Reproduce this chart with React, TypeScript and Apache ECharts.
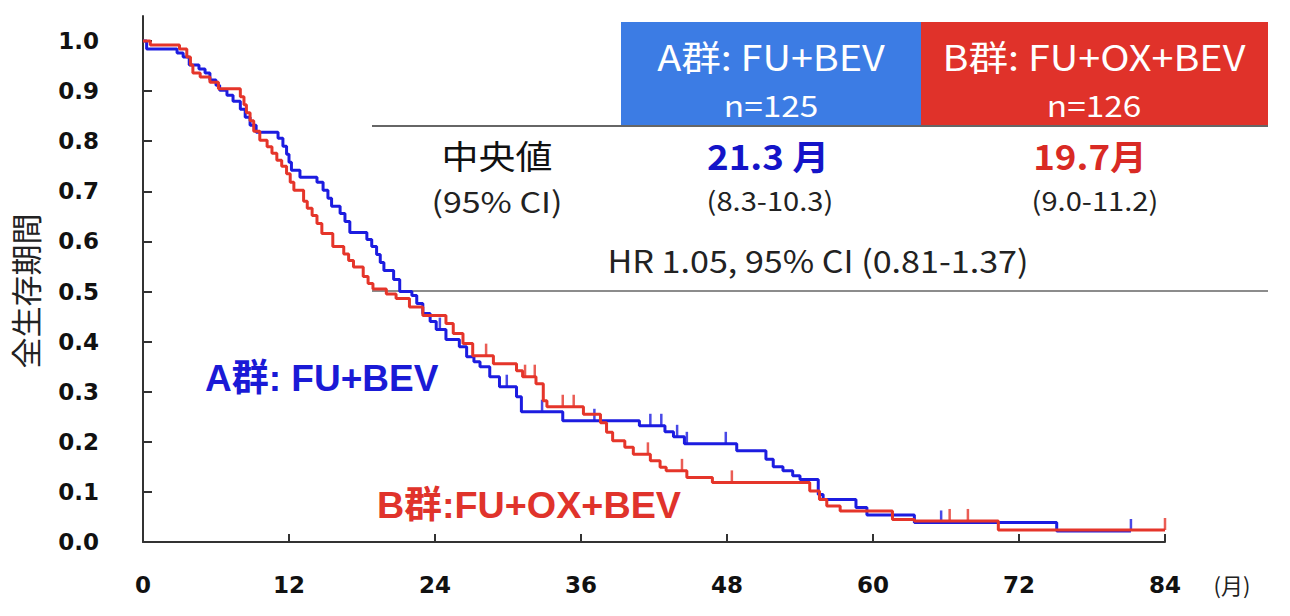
import React, { useEffect, useRef } from "react";
import * as echarts from "echarts";

const xTicks = [0, 12, 24, 36, 48, 60, 72, 84];

// Group A (FU+BEV): [month, survival] where survival becomes the value at that month
const armA: [number, number][] = [
  [0, 1.0], [0.3, 0.984], [2.8, 0.976], [3.3, 0.968], [3.8, 0.952], [4.6, 0.944], [5.1, 0.936],
  [5.5, 0.922], [6.0, 0.912], [6.3, 0.902], [6.9, 0.892], [7.4, 0.88], [8.0, 0.864], [8.4, 0.848],
  [8.8, 0.832], [9.3, 0.818], [11.1, 0.806], [11.5, 0.79], [11.8, 0.774], [12.0, 0.758], [12.2, 0.742],
  [12.9, 0.728], [14.3, 0.718], [14.8, 0.702], [15.2, 0.686], [15.5, 0.67], [16.2, 0.656], [16.6, 0.64],
  [17.0, 0.618], [18.4, 0.604], [18.8, 0.59], [19.2, 0.574], [19.5, 0.558], [19.8, 0.542], [20.6, 0.524],
  [21.1, 0.5], [22.1, 0.492], [22.5, 0.476], [23.0, 0.456], [23.6, 0.44], [24.1, 0.424], [24.9, 0.404],
  [26.0, 0.39], [26.6, 0.37], [27.2, 0.36], [27.7, 0.35], [28.5, 0.33], [29.3, 0.31], [30.7, 0.29],
  [31.1, 0.26], [34.5, 0.242], [40.8, 0.232], [42.9, 0.22], [43.6, 0.21], [44.5, 0.196], [48.8, 0.182],
  [51.2, 0.165], [51.8, 0.15], [52.6, 0.142], [53.4, 0.132], [54.0, 0.125], [55.5, 0.095], [55.9, 0.085],
  [58.6, 0.069], [59.5, 0.054], [63.4, 0.039], [75.1, 0.022], [81.2, 0.022],
];

const censorA: [number, number][] = [
  [24.4, 0.424], [29.9, 0.31], [32.8, 0.26], [37.1, 0.242], [41.7, 0.232], [42.6, 0.232],
  [43.9, 0.21], [44.7, 0.196], [47.9, 0.196], [65.6, 0.039], [81.2, 0.022],
];

// Group B (FU+OX+BEV)
const armB: [number, number][] = [
  [0, 1.0], [0.6, 0.992], [3.0, 0.984], [3.6, 0.968], [3.9, 0.952], [4.1, 0.936], [4.7, 0.928],
  [5.5, 0.918], [6.2, 0.905], [8.0, 0.889], [8.3, 0.873], [8.5, 0.857], [8.8, 0.841], [9.1, 0.82],
  [9.6, 0.802], [10.2, 0.789], [10.6, 0.776], [11.0, 0.762], [11.4, 0.75], [11.8, 0.735], [12.1, 0.718],
  [12.4, 0.702], [13.2, 0.68], [13.5, 0.666], [13.9, 0.652], [14.3, 0.636], [14.7, 0.616], [15.6, 0.59],
  [16.5, 0.575], [16.9, 0.562], [17.3, 0.549], [18.1, 0.53], [18.5, 0.516], [18.9, 0.505], [20.0, 0.495],
  [20.8, 0.486], [21.9, 0.469], [23.0, 0.452], [24.9, 0.436], [25.5, 0.416], [26.3, 0.396], [27.1, 0.372],
  [28.8, 0.356], [30.7, 0.342], [31.2, 0.33], [32.3, 0.316], [32.9, 0.282], [33.2, 0.27], [36.2, 0.255],
  [37.6, 0.238], [38.1, 0.219], [38.6, 0.202], [39.6, 0.189], [40.3, 0.175], [41.7, 0.162], [42.5, 0.149],
  [43.0, 0.142], [44.7, 0.129], [46.8, 0.119], [54.8, 0.102], [55.6, 0.085], [56.2, 0.072], [57.3, 0.062],
  [61.6, 0.045], [63.4, 0.042], [70.3, 0.024], [84, 0.024],
];

const censorB: [number, number][] = [
  [28.2, 0.372], [31.4, 0.33], [32.2, 0.33], [34.5, 0.27], [35.4, 0.27], [41.5, 0.175],
  [44.3, 0.142], [48.4, 0.119], [66.3, 0.042], [67.8, 0.042], [84, 0.024],
];

const BLUE = "#1c1ce0";
const RED = "#e5352a";
const BOX_BLUE = "#3c7ce4";
const BOX_RED = "#e0322a";
const TXT_FONT = "'Noto Sans CJK JP', 'Noto Sans', sans-serif";
const CJK = "'Noto Sans CJK JP', 'Liberation Sans', sans-serif";
const AXIS_FONT = "'DejaVu Sans', 'Liberation Sans', sans-serif";

export default function App() {
  const ref = useRef<HTMLDivElement>(null);
  useEffect(() => {
    if (!ref.current) return;
    const chart = echarts.init(ref.current, null, { renderer: "svg" });
    const censorSymbol = (color: string) => ({
      symbol: "rect",
      symbolSize: [2.5, 12],
      symbolOffset: [0, -6],
      itemStyle: { color },
    });
    const t = (x: number, y: number, text: string, fill: string, font: string, sx = 1, align = "center") => ({
      type: "text",
      x,
      y,
      scaleX: sx,
      z: 5,
      style: { text, fill, font, align, verticalAlign: "middle" },
    });
    chart.setOption({
      animation: false,
      backgroundColor: "#ffffff",
      grid: { left: 143, right: 125, top: 16, bottom: 74 },
      xAxis: {
        type: "value",
        min: 0,
        max: 84,
        interval: 12,
        axisLine: { lineStyle: { color: "#333", width: 2 } },
        axisTick: { inside: true, length: 8, lineStyle: { color: "#333", width: 2 } },
        splitLine: { show: false },
        axisLabel: {
          margin: 31,
          color: "#111",
          fontWeight: "bold",
          fontSize: 23,
          fontFamily: AXIS_FONT,
          formatter: (v: number) => (xTicks.includes(v) ? String(v) : ""),
        },
      },
      yAxis: {
        type: "value",
        min: 0,
        max: 1.05,
        interval: 0.1,
        axisLine: { show: true, lineStyle: { color: "#333", width: 2 } },
        axisTick: { show: true, inside: true, length: 9, lineStyle: { color: "#333", width: 2 } },
        splitLine: { show: false },
        axisLabel: {
          showMaxLabel: false,
          margin: 44,
          color: "#111",
          fontWeight: "bold",
          fontSize: 23,
          fontFamily: AXIS_FONT,
          formatter: (v: number) => (v > 1.001 ? "" : v.toFixed(1)),
        },
      },
      series: [
        {
          type: "line",
          step: "end",
          data: armA,
          showSymbol: false,
          lineStyle: { color: BLUE, width: 3 },
          z: 3,
        },
        {
          type: "line",
          step: "end",
          data: armB,
          showSymbol: false,
          lineStyle: { color: RED, width: 3 },
          z: 4,
        },
        { type: "scatter", data: censorA, ...censorSymbol(BLUE), z: 3 },
        { type: "scatter", data: censorB, ...censorSymbol(RED), z: 4 },
      ],
      graphic: [
        { type: "rect", shape: { x: 621, y: 22, width: 300, height: 104 }, style: { fill: BOX_BLUE }, z: 1 },
        { type: "rect", shape: { x: 921, y: 22, width: 347, height: 104 }, style: { fill: BOX_RED }, z: 1 },
        { type: "line", shape: { x1: 372, y1: 126, x2: 1268, y2: 126 }, style: { stroke: "#666", lineWidth: 2 }, z: 2 },
        { type: "line", shape: { x1: 372, y1: 291, x2: 1268, y2: 291 }, style: { stroke: "#666", lineWidth: 1.5 }, z: 2 },
        t(771, 56, "A群: FU+BEV", "#fff", `35px ${TXT_FONT}`, 1.13),
        t(771, 104, "n=125", "#fff", `29px ${TXT_FONT}`, 1.15),
        t(1094, 56, "B群: FU+OX+BEV", "#fff", `35px ${TXT_FONT}`, 1.13),
        t(1094, 104, "n=126", "#fff", `29px ${TXT_FONT}`, 1.15),
        t(497, 154, "中央値", "#111", `33px ${CJK}`, 1.12),
        t(497, 200, "(95% CI)", "#222", `29px ${TXT_FONT}`, 1.17),
        t(768, 155, "21.3 月", "#1414c8", `bold 34px ${TXT_FONT}`, 1.08),
        t(1090, 155, "19.7月", "#d92a24", `bold 34px ${TXT_FONT}`, 1.08),
        t(770, 200, "(8.3-10.3)", "#222", `26px ${TXT_FONT}`, 1.12),
        t(1095, 200, "(9.0-11.2)", "#222", `26px ${TXT_FONT}`, 1.12),
        t(818, 259, "HR 1.05, 95% CI (0.81-1.37)", "#222", `31px ${TXT_FONT}`, 1.1),
        t(205, 378, "A群: FU+BEV", "#1a1ad6", `bold 37px 'Liberation Sans', ${CJK}`, 1, "left"),
        t(377, 505, "B群:FU+OX+BEV", "#e0332b", `bold 37px 'Liberation Sans', ${CJK}`, 1.02, "left"),
        t(1232, 584, "(月)", "#222", `22px ${CJK}`),
        {
          type: "text",
          x: 24,
          y: 291,
          rotation: Math.PI / 2,
          z: 5,
          style: { text: "全生存期間", fill: "#222", font: `31px ${CJK}`, align: "center", verticalAlign: "middle" },
        },
      ],
    });
    return () => chart.dispose();
  }, []);
  return (
    <div
      ref={ref}
      style={{ position: "fixed", left: 0, top: 0, width: 1290, height: 616, background: "#fff" }}
    />
  );
}
